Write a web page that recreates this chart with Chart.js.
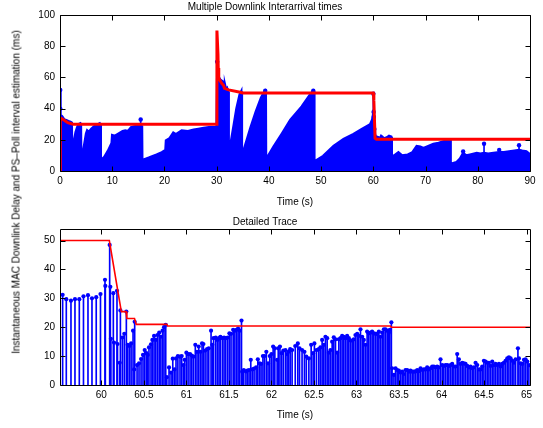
<!DOCTYPE html>
<html>
<head>
<meta charset="utf-8">
<script src="https://cdn.jsdelivr.net/npm/chart.js@4.4.0/dist/chart.umd.min.js"></script>
<style>
  html, body { margin: 0; padding: 0; background: #fff; }
  #wrap { position: relative; width: 543px; height: 428px; overflow: hidden; background: #fff;
          font-family: 'Liberation Sans', Arial, sans-serif; }
  #cTop { position: absolute; left: 0; top: 0; }
  #cBot { position: absolute; left: 0; top: 210px; }
  #ylab { position: absolute; left: 16px; top: 192px; white-space: nowrap; font-size: 10px; color: #000;
          transform: translate(-50%, -50%) rotate(-90deg); }
</style>
</head>
<body>
<div id="wrap">
  <canvas id="cTop" width="543" height="210" style="width:543px;height:210px"></canvas>
  <canvas id="cBot" width="543" height="218" style="width:543px;height:218px"></canvas>
  <div id="ylab">Instantaneous MAC Downlink Delay and PS–Poll interval estimation (ms)</div>
</div>
<script>
// ---- data (time s, delay ms) ----
const TOP_X_TICKS = [0, 10, 20, 30, 40, 50, 60, 70, 80, 90];
const TOP_Y_TICKS = [0, 20, 40, 60, 80, 100];
const BOT_X_TICKS = [60, 60.5, 61, 61.5, 62, 62.5, 63, 63.5, 64, 64.5, 65];
const BOT_Y_TICKS = [0, 10, 20, 30, 40, 50];

// upper edge of the dense blue stems in the top panel
const TOP_ENVELOPE = [
  [0, 0], [0.05, 52], [0.12, 36], [0.4, 35], [0.8, 33], [1.3, 32.5], [1.6, 32], [2.0, 31.5], [2.25, 31],
  [2.3, 12], [2.6, 18], [3.0, 25], [3.3, 28], [3.6, 30], [3.9, 30.5], [4.0, 30],
  [4.05, 9], [4.5, 14], [5.0, 24], [5.2, 26], [5.5, 25], [6.0, 27], [6.5, 28.5], [7.0, 29.5], [7.6, 30.5], [7.7, 30],
  [7.8, 7], [8.5, 9], [9.2, 13], [9.9, 18], [10.0, 23], [10.5, 22.5], [11.0, 23.5], [12.0, 25.5], [12.5, 26],
  [13.0, 25.5], [13.6, 28], [14.2, 28.5], [15.0, 29], [15.3, 29.5], [15.6, 29], [15.7, 28],
  [15.75, 7], [17, 8.5], [18.5, 10.5], [19.5, 12], [20.2, 13.5], [20.3, 19.5], [21, 21], [21.7, 24.5],
  [22.2, 23.5], [23.3, 26], [24.5, 25.5], [25.6, 26.5], [26.5, 27], [27.5, 27.5], [28.5, 28], [29.5, 28], [30.0, 28],
  [30.1, 59], [30.5, 59], [30.8, 58], [30.85, 12], [30.9, 58], [31.3, 57], [31.5, 56], [31.55, 12], [31.6, 55],
  [31.8, 52], [32.0, 53], [32.2, 51],
  [32.3, 9], [32.8, 20], [33.3, 30], [33.8, 40], [34.4, 49], [34.7, 51], [34.8, 51],
  [34.85, 9], [35.5, 17], [36.5, 28], [37.5, 38], [38.5, 47], [39.0, 50], [39.3, 51.5], [39.4, 51],
  [39.45, 7.5], [40.9, 15.6], [42.5, 24], [44.1, 32.7], [46.3, 41.3], [47.9, 49], [48.5, 51.5], [48.65, 51],
  [48.7, 6], [50.4, 9.6], [52.4, 16], [54.3, 20.4], [56.2, 23.6], [57.8, 26.8], [59.4, 30], [59.8, 33], [59.95, 36],
  [60.1, 34], [60.2, 27], [60.3, 24], [60.4, 22.5], [60.6, 22], [61.0, 21.5], [61.3, 21], [61.5, 22.5], [61.7, 22],
  [62.0, 21], [62.1, 16], [62.2, 21], [62.6, 21.5], [63.0, 22.5], [63.4, 22], [63.5, 21],
  [63.55, 9], [64.0, 10], [64.8, 12], [65.5, 10], [66.6, 10.5], [67.5, 12], [68.3, 16], [69.0, 15.5], [69.6, 14.7],
  [70.5, 16], [71.5, 17.3], [72.5, 18], [73.4, 19], [74.5, 20], [74.75, 20],
  [74.8, 4.5], [75.9, 5.6], [76.6, 8], [77.2, 11.5], [77.8, 10], [78.5, 10.5], [79.8, 11.5], [80.5, 11], [81.2, 11.5],
  [82, 11], [83, 11.5], [84.1, 12], [85, 12], [86, 12.5], [87, 13], [87.9, 13.5], [88.5, 13], [89.3, 12.5], [90, 10.6]
];

// single stems that stand out in the top panel
const TOP_SPIKES = [
  [0.05, 52], [0.05, 40], [0.05, 25.5], [0.05, 15.4], [0.05, 4.7], [15.45, 33], [30.1, 70], [30.4, 59],
  [39.3, 51.5], [48.5, 51.5], [60.0, 49.5], [60.05, 37.8], [60.1, 34.6], [60.2, 27],
  [77.2, 12.5], [81.2, 17.5], [84.1, 13.5], [87.9, 16.5]
];

// PS-Poll interval estimation, top panel
const TOP_ESTIMATE = [
  [0, 0], [0.06, 34], [0.6, 33], [1.5, 31], [2.5, 30], [29.95, 30], [30.05, 90], [30.25, 75], [30.3, 66],
  [30.4, 59.4], [31.0, 56], [31.3, 55], [31.5, 53], [32.3, 52], [34.5, 50.5], [35, 50], [60.0, 50],
  [60.1, 45], [60.33, 21], [60.6, 20.3], [90, 20.3]
];

// detailed trace: one stem per downlink frame
const BOT_STEMS = [
  [59.545, 31.2], [59.588, 29.7], [59.643, 29.2], [59.690, 29.7], [59.741, 29.7], [59.790, 30.7], [59.843, 31.1],
  [59.890, 30.0], [59.940, 30.4], [59.990, 31.5], [60.043, 36.4], [60.047, 34.3], [60.098, 48.5], [60.106, 34.0],
  [60.112, 16.0], [60.141, 31.8], [60.149, 14.7], [60.184, 32.6], [60.190, 14.2], [60.216, 7.7], [60.224, 25.8],
  [60.247, 16.4], [60.270, 17.7], [60.294, 25.4], [60.310, 13.9], [60.330, 13.5], [60.350, 14.4], [60.373, 18.8],
  [60.386, 5.4], [60.392, 21.9], [60.420, 6.9], [60.443, 7.5], [60.467, 9.0], [60.490, 10.4], [60.510, 12.1],
  [60.530, 11.0], [60.545, 10.4], [60.560, 13.0], [60.584, 14.1], [60.600, 15.6], [60.620, 17.0], [60.640, 15.6],
  [60.660, 17.3], [60.680, 18.1], [60.700, 16.7], [60.720, 18.8], [60.737, 20.0], [60.757, 20.8], [60.770, 2.7],
  [60.796, 6.1], [60.820, 4.3], [60.840, 9.1], [60.860, 5.4], [60.878, 9.2], [60.900, 10.0], [60.925, 9.8],
  [60.945, 10.0], [60.965, 6.9], [60.980, 8.7], [61.000, 11.2], [61.020, 10.7], [61.043, 10.7], [61.063, 10.2],
  [61.082, 9.8], [61.105, 13.9], [61.125, 11.5], [61.145, 13.3], [61.165, 11.5], [61.184, 14.4], [61.200, 14.2],
  [61.220, 11.9], [61.243, 12.4], [61.263, 12.7], [61.290, 18.8], [61.305, 13.9], [61.320, 16.2], [61.345, 16.4],
  [61.365, 15.6], [61.384, 16.2], [61.400, 16.7], [61.424, 16.2], [61.443, 16.4], [61.463, 16.2], [61.486, 16.4],
  [61.506, 17.9], [61.525, 17.7], [61.550, 19.1], [61.570, 18.8], [61.590, 19.1], [61.608, 19.5], [61.627, 18.8],
  [61.648, 22.3], [61.656, 4.6], [61.675, 5.2], [61.700, 4.7], [61.718, 5.0], [61.737, 5.2], [61.757, 8.7],
  [61.776, 5.4], [61.796, 5.7], [61.820, 6.1], [61.840, 8.9], [61.860, 7.5], [61.878, 7.3], [61.900, 10.0],
  [61.918, 10.0], [61.940, 11.5], [61.960, 7.5], [61.980, 10.0], [62.000, 10.7], [62.020, 13.3], [62.040, 12.7],
  [62.067, 8.7], [62.080, 12.7], [62.100, 13.3], [62.120, 11.0], [62.140, 11.9], [62.165, 12.1], [62.184, 10.7],
  [62.200, 11.5], [62.220, 12.4], [62.243, 12.1], [62.280, 13.5], [62.310, 14.4], [62.330, 12.7], [62.360, 12.1],
  [62.388, 11.5], [62.410, 9.8], [62.440, 9.2], [62.467, 13.9], [62.490, 11.0], [62.505, 14.4], [62.530, 12.1],
  [62.557, 12.4], [62.576, 13.0], [62.596, 15.6], [62.616, 13.9], [62.635, 16.7], [62.655, 16.2], [62.675, 11.2],
  [62.694, 12.1], [62.714, 15.0], [62.733, 16.5], [62.753, 15.8], [62.773, 11.2], [62.792, 15.8], [62.812, 16.2],
  [62.831, 17.0], [62.851, 16.7], [62.870, 16.2], [62.890, 17.0], [62.910, 16.2], [62.930, 15.4], [62.949, 15.4],
  [62.968, 15.8], [62.988, 17.3], [63.008, 17.7], [63.027, 17.0], [63.047, 19.3], [63.067, 16.7], [63.086, 15.6],
  [63.106, 13.9], [63.125, 18.5], [63.145, 17.9], [63.165, 18.1], [63.184, 18.5], [63.204, 17.9], [63.224, 17.7],
  [63.243, 17.7], [63.263, 18.5], [63.282, 16.7], [63.302, 18.1], [63.322, 19.3], [63.341, 19.3], [63.361, 18.8],
  [63.380, 18.1], [63.392, 19.1], [63.410, 21.7], [63.418, 5.8], [63.440, 3.5], [63.459, 5.8], [63.478, 5.2],
  [63.498, 5.0], [63.518, 4.3], [63.537, 4.6], [63.557, 3.8], [63.576, 5.2], [63.596, 5.2], [63.616, 4.6],
  [63.635, 5.0], [63.655, 4.6], [63.675, 4.6], [63.694, 4.7], [63.714, 5.2], [63.733, 4.8], [63.753, 5.8],
  [63.773, 5.2], [63.792, 5.4], [63.812, 5.4], [63.831, 6.1], [63.851, 5.4], [63.870, 5.8], [63.890, 6.4],
  [63.910, 6.4], [63.930, 6.1], [63.949, 6.4], [63.968, 6.1], [63.988, 8.9], [64.008, 6.9], [64.027, 6.6],
  [64.047, 6.9], [64.067, 6.9], [64.086, 6.6], [64.106, 6.9], [64.125, 7.3], [64.145, 6.4], [64.165, 6.4],
  [64.184, 10.7], [64.204, 8.9], [64.224, 7.3], [64.243, 7.7], [64.263, 7.5], [64.282, 7.3], [64.302, 6.6],
  [64.322, 6.1], [64.341, 6.4], [64.361, 5.8], [64.380, 6.1], [64.400, 7.7], [64.420, 6.9], [64.440, 5.4],
  [64.459, 5.4], [64.478, 6.4], [64.498, 8.4], [64.518, 8.1], [64.537, 7.7], [64.557, 7.7], [64.576, 6.6],
  [64.596, 8.1], [64.616, 6.9], [64.635, 7.3], [64.655, 6.9], [64.675, 7.3], [64.694, 6.4], [64.714, 7.3],
  [64.733, 7.7], [64.753, 8.4], [64.773, 9.2], [64.792, 9.6], [64.812, 9.2], [64.831, 8.4], [64.851, 7.7],
  [64.871, 8.9], [64.898, 12.7], [64.910, 9.2], [64.930, 7.5], [64.949, 7.3], [64.969, 8.7], [64.988, 8.9],
  [65.008, 8.1], [65.027, 6.9]
];

// PS-Poll interval estimation, detailed trace
const BOT_ESTIMATE = [
  [59.514, 50], [60.094, 50], [60.235, 25.4], [60.29, 25.4], [60.30, 23], [60.39, 23], [60.41, 21],
  [60.77, 21], [60.78, 20.4], [63.40, 20.4], [63.41, 20], [65.04, 20]
];

// ---- drawing ----
const FONT = { family: "'Liberation Sans', Arial, sans-serif", size: 10, weight: 'normal' };
const BLUE = '#0000ff';
const RED = '#ff0000';
const TICK_LEN = 5;

const xy = arr => arr.map(([x, y]) => ({ x, y }));

// MATLAB style box with inward ticks on all four sides
const matlabAxes = {
  id: 'matlabAxes',
  afterDatasetsDraw(chart) {
    const { ctx, chartArea: a, scales: { x, y } } = chart;
    const l = Math.round(a.left) + 0.5, r = Math.round(a.right) + 0.5;
    const t = Math.round(a.top) + 0.5, b = Math.round(a.bottom) + 0.5;
    ctx.save();
    ctx.strokeStyle = '#000';
    ctx.lineWidth = 1;
    ctx.beginPath();
    x.ticks.forEach(tk => {
      const px = Math.round(x.getPixelForValue(tk.value)) + 0.5;
      ctx.moveTo(px, b); ctx.lineTo(px, b - TICK_LEN);
      ctx.moveTo(px, t); ctx.lineTo(px, t + TICK_LEN);
    });
    y.ticks.forEach(tk => {
      const py = Math.round(y.getPixelForValue(tk.value)) + 0.5;
      ctx.moveTo(l, py); ctx.lineTo(l + TICK_LEN, py);
      ctx.moveTo(r, py); ctx.lineTo(r - TICK_LEN, py);
    });
    ctx.rect(l, t, r - l, b - t);
    ctx.stroke();
    ctx.restore();
  }
};

function axisX(min, max, ticks, height, titleBottom) {
  return {
    type: 'linear', min, max, offset: false,
    grid: { display: false, drawTicks: false }, border: { display: false },
    afterBuildTicks: s => { s.ticks = ticks.map(v => ({ value: v })); },
    afterFit: s => { s.height = height; },
    ticks: { color: '#000', font: FONT, padding: 4, maxRotation: 0, autoSkip: false, callback: v => String(v) },
    title: { display: true, text: 'Time (s)', color: '#000', font: FONT, padding: { top: 0, bottom: titleBottom } }
  };
}

function axisY(min, max, ticks) {
  return {
    type: 'linear', min, max,
    grid: { display: false, drawTicks: false }, border: { display: false },
    afterBuildTicks: s => { s.ticks = ticks.map(v => ({ value: v })); },
    afterFit: s => { s.width = 60; },
    ticks: { color: '#000', font: FONT, padding: 5, callback: v => String(v) }
  };
}

function baseOptions(title, titlePad, x, y) {
  return {
    responsive: false, animation: false, events: [],
    layout: { padding: { left: 0, right: 13, top: 0, bottom: 0 } },
    plugins: {
      legend: { display: false }, tooltip: { enabled: false },
      title: { display: true, text: title, color: '#000', font: FONT, padding: titlePad }
    },
    scales: { x, y }
  };
}

new Chart(document.getElementById('cTop'), {
  type: 'line',
  data: {
    datasets: [
      { type: 'line', data: xy(TOP_ESTIMATE), borderColor: RED, borderWidth: 3, pointRadius: 0, tension: 0 },
      { type: 'line', data: xy(TOP_SPIKES), showLine: false, pointRadius: 2.2, pointBorderWidth: 0,
        pointBackgroundColor: BLUE },
      { type: 'bar', data: xy(TOP_SPIKES), backgroundColor: BLUE, barThickness: 1, borderWidth: 0 },
      { type: 'line', data: xy(TOP_ENVELOPE), borderColor: BLUE, backgroundColor: BLUE, borderWidth: 2.5,
        fill: 'origin', pointRadius: 0, tension: 0 }
    ]
  },
  options: baseOptions('Multiple Downlink Interarrival times', { top: 1, bottom: 2 },
    axisX(0, 90, TOP_X_TICKS, 39, 2), axisY(0, 100, TOP_Y_TICKS)),
  plugins: [matlabAxes]
});

new Chart(document.getElementById('cBot'), {
  type: 'line',
  data: {
    datasets: [
      { type: 'line', data: xy(BOT_ESTIMATE), borderColor: RED, borderWidth: 1.6, pointRadius: 0, tension: 0 },
      { type: 'line', data: xy(BOT_STEMS), showLine: false, pointRadius: 2.1, pointBorderWidth: 0,
        pointBackgroundColor: BLUE },
      { type: 'bar', data: xy(BOT_STEMS), backgroundColor: BLUE, barThickness: 1, borderWidth: 0 }
    ]
  },
  options: baseOptions('Detailed Trace', { top: 6.7, bottom: 0.3 },
    axisX(59.514, 65.04, BOT_X_TICKS, 43, 7), axisY(0, 54, BOT_Y_TICKS)),
  plugins: [matlabAxes]
});
</script>
</body>
</html>
